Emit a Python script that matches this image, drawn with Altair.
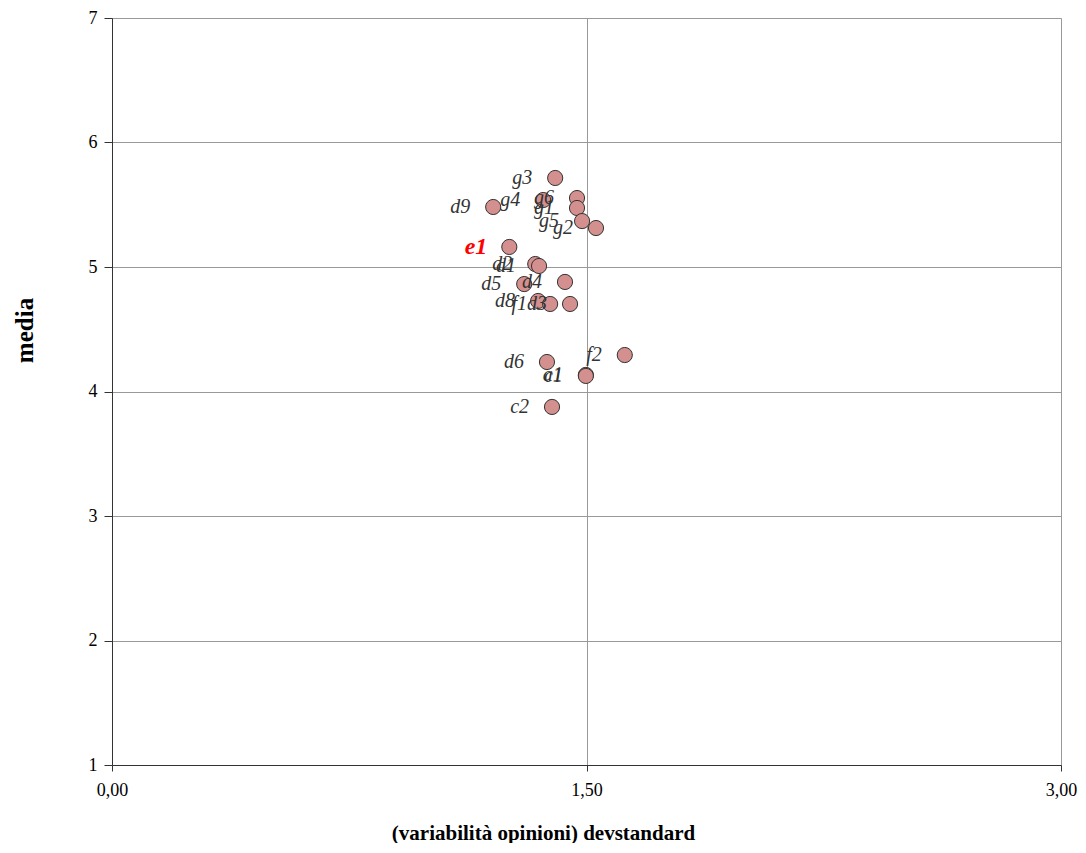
import altair as alt
import pandas as pd

labels = ["g3", "g4", "g6", "g1", "g5", "g2", "d9", "e1", "d2", "d1",
          "d5", "d4", "d8", "f1", "d3", "d6", "f2", "a1", "c1", "c2"]
devstd = [1.401, 1.363, 1.470, 1.470, 1.486, 1.530, 1.205, 1.256, 1.338, 1.350,
          1.303, 1.432, 1.347, 1.385, 1.448, 1.375, 1.621, 1.498, 1.498, 1.391]
media = [5.715, 5.538, 5.554, 5.474, 5.369, 5.313, 5.482, 5.161, 5.024, 5.008,
         4.863, 4.880, 4.727, 4.703, 4.703, 4.237, 4.293, 4.133, 4.125, 3.876]

df = pd.DataFrame({"label": labels, "x": devstd, "y": media})
df["hl"] = df["label"] == "e1"

FONT = "Liberation Serif"

xs = alt.X("x:Q", scale=alt.Scale(domain=[0, 3], nice=False, zero=False),
           axis=alt.Axis(values=[0, 1.5, 3],
                         labelExpr="replace(format(datum.value, '.2f'), '.', ',')",
                         title="(variabilità  opinioni) devstandard",
                         titleFontSize=21, titleX=431, titleY=68,
                         labelPadding=10, tickSize=6, labelFlush=False,
                         labelOverlap=False, labelFontSize=18))
ys = alt.Y("y:Q", scale=alt.Scale(domain=[1, 7], nice=False, zero=False),
           axis=alt.Axis(values=[1, 2, 3, 4, 5, 6, 7], format="d",
                         title="media",
                         titleFontSize=25, titleX=-88, titleY=312, titleAngle=270,
                         labelPadding=7, tickSize=8, labelFlush=False,
                         labelOverlap=False, labelFontSize=18))

base = alt.Chart(df)

points = base.mark_point(filled=True, shape="circle", size=230, fill="#D4908E",
                         stroke="#333", strokeWidth=1, opacity=1).encode(x=xs, y=ys)

txt = base.transform_filter("!datum.hl").mark_text(
    align="right", baseline="middle", dx=-23, font=FONT, fontStyle="italic",
    fontSize=20, color="#333").encode(x="x:Q", y="y:Q", text="label:N")

txt_hl = base.transform_filter("datum.hl").mark_text(
    align="right", baseline="middle", dx=-22, font=FONT, fontStyle="italic",
    fontWeight="bold", fontSize=24, color="#FF0000").encode(x="x:Q", y="y:Q", text="label:N")

chart = alt.layer(points, txt, txt_hl).properties(
    width=949, height=747,
    autosize=alt.AutoSizeParams(type="none"),
    padding={"left": 104, "top": 10, "right": 16, "bottom": 78},
).configure_view(stroke="#888", strokeWidth=1).configure(background="white").configure_axis(
    labelFont=FONT, labelColor="#000",
    titleFont=FONT, titleFontWeight="bold", titleColor="#000",
    titleAnchor="middle", titleBaseline="middle",
    tickColor="#333", domainColor="#333",
    grid=True, gridColor="#999", gridWidth=1)

chart.save("out.html", embed_options={"renderer": "svg", "actions": False})
